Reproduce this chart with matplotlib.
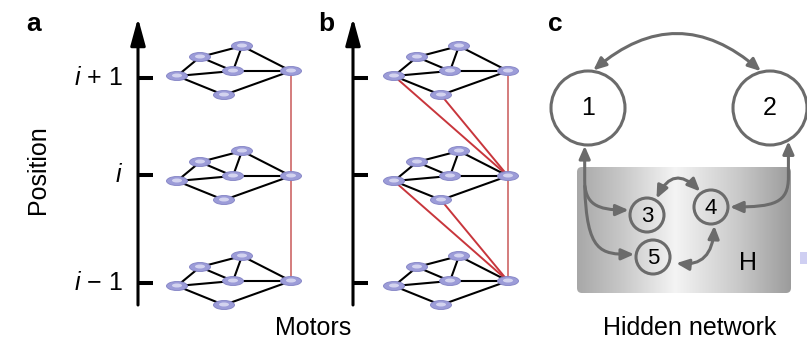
import numpy as np
import matplotlib
import matplotlib.pyplot as plt
from matplotlib.patches import Ellipse, Circle, FancyBboxPatch, FancyArrowPatch, Rectangle
from matplotlib.path import Path
from matplotlib.colors import LinearSegmentedColormap

matplotlib.rc("font", family="Liberation Sans")
matplotlib.rc("mathtext", fontset="custom", it="Liberation Sans:italic", rm="Liberation Sans")

# motor network (one copy), positions of the top copy in panel a (pixels)
node_x = [177, 200, 242, 233, 291, 224]
node_y = [76, 57, 46, 71, 71, 95]
node_edges = [(0, 1), (0, 3), (0, 5), (1, 2), (1, 3), (2, 3), (2, 4), (3, 4), (5, 4)]

# copies at positions i+1, i, i-1
level_shift = [0, 105, 210]
panel_shift = [0, 217]
tick_labels = ["$i$ + 1", "$i$", "$i$ \u2212 1"]
tick_y = [78, 175, 283]
axis_x = [138, 353]
panel_labels = ["a", "b", "c"]
panel_label_x = [34, 326, 555]

# panel b: node 4 of a copy links to these nodes of the copy above
cross_links = [0, 5, 4]

# panel c
big_names = ["1", "2"]
big_x = [588, 770]
big_y = [108, 108]
small_names = ["3", "4", "5"]
small_x = [647, 711, 653]
small_y = [215, 207, 257]

BIG_R = 37
SMALL_R = 17
GREY = "#6b6b6b"

fig = plt.figure(figsize=(8.07, 3.40), dpi=100)
ax = fig.add_axes([0, 0, 1, 1])


def on_circle(cx, cy, r, deg):
    t = np.radians(deg)
    return (cx + r * np.cos(t), cy - r * np.sin(t))


def node(x, y):
    ax.add_patch(Ellipse((x, y), 21, 9, facecolor="#9c9cd8", edgecolor="#8282c4", lw=0.6, zorder=5))
    ax.add_patch(Ellipse((x, y - 0.5), 10, 4, facecolor="#e2e2f6", edgecolor="none", alpha=0.8, zorder=6))


# panels a and b
for p, dx in enumerate(panel_shift):
    # position axis
    ax.annotate("", xy=(axis_x[p], 18), xytext=(axis_x[p], 305),
                arrowprops=dict(arrowstyle="-|>,head_length=1.65,head_width=0.45", lw=2.2,
                                color="black", shrinkA=0, shrinkB=0, mutation_scale=10))
    for ty in tick_y:
        ax.plot([axis_x[p], axis_x[p] + 15], [ty, ty], color="black", lw=2.9, solid_capstyle="butt")

    for dy in level_shift:
        xs = [x + dx for x in node_x]
        ys = [y + dy for y in node_y]
        for a, b in node_edges:
            ax.plot([xs[a], xs[b]], [ys[a], ys[b]], color="black", lw=1.5, zorder=3)
        for x, y in zip(xs, ys):
            node(x, y)

# red links
ax.plot([node_x[4], node_x[4]], [node_y[4] + level_shift[0], node_y[4] + level_shift[2]],
        color="#d47c7c", lw=1.4, zorder=2)
dx = panel_shift[1]
for k in range(1, len(level_shift)):
    for n in cross_links:
        col = "#d47c7c" if n == 4 else "#c8363c"
        ax.plot([node_x[4] + dx, node_x[n] + dx],
                [node_y[4] + level_shift[k], node_y[n] + level_shift[k - 1]],
                color=col, lw=1.4, zorder=2)

# texts of panels a and b
for lab, ty in zip(tick_labels, tick_y):
    ax.text(123, ty, lab, ha="right", va="center", fontsize=18)
ax.text(38, 170, "Position", rotation=90, ha="center", va="center", fontsize=18)
ax.text(313, 328, "Motors", ha="center", va="center", fontsize=18)
for lab, x in zip(panel_labels, panel_label_x):
    ax.text(x, 24, lab, ha="center", va="center", fontsize=19, fontweight="bold")

# panel c: hidden network box with grey gradient
box = FancyBboxPatch((577, 167), 214, 126, boxstyle="round,pad=0,rounding_size=5",
                     facecolor="none", edgecolor="none")
ax.add_patch(box)
grad = LinearSegmentedColormap.from_list(
    "grad", [(0, "#a8a8a8"), (0.2, "#c6c6c6"), (0.46, "#f4f4f4"), (0.75, "#cacaca"), (1, "#9c9c9c")])
img = ax.imshow(np.linspace(0, 1, 256).reshape(1, -1), cmap=grad, extent=(577, 791, 293, 167),
                aspect="auto", zorder=1)
img.set_clip_path(box)

for name, cx, cy in zip(big_names, big_x, big_y):
    ax.add_patch(Circle((cx, cy), BIG_R, facecolor="white", edgecolor=GREY, lw=2.2, zorder=4))
    ax.text(cx, cy, name, ha="center", va="center", fontsize=18, zorder=5)
for name, cx, cy in zip(small_names, small_x, small_y):
    ax.add_patch(Circle((cx, cy), SMALL_R, facecolor="none", edgecolor=GREY, lw=2.2, zorder=4))
    ax.text(cx, cy + 1, name, ha="center", va="center", fontsize=16, zorder=5)
ax.text(748, 263, "H", ha="center", va="center", fontsize=18, zorder=5)
ax.text(690, 328, "Hidden network", ha="center", va="center", fontsize=18)


def arrow(path=None, a=None, b=None, style="<|-|>", conn="arc3"):
    st = style + ",head_length=0.75,head_width=0.33"
    if path is not None:
        pa = FancyArrowPatch(path=path, arrowstyle=st, mutation_scale=10, color=GREY, lw=2.2, zorder=6)
    else:
        pa = FancyArrowPatch(a, b, arrowstyle=st, connectionstyle=conn, mutation_scale=10,
                             color=GREY, lw=2.2, shrinkA=0, shrinkB=0, zorder=6)
    ax.add_patch(pa)


# 1 <-> 2 over the top
arrow(a=on_circle(big_x[0], big_y[0], BIG_R + 1, 82), b=on_circle(big_x[1], big_y[1], BIG_R + 1, 104),
      conn="arc3,rad=-0.43")

# 1 <-> 3
p1 = on_circle(big_x[0], big_y[0], BIG_R + 1, 265)
p3 = on_circle(small_x[0], small_y[0], SMALL_R + 2, 165)
arrow(path=Path([p1, (p1[0], p3[1] - 30), (p1[0], p3[1] - 6), (p1[0] + 12, p3[1]), p3],
                [Path.MOVETO, Path.LINETO, Path.CURVE4, Path.CURVE4, Path.CURVE4]))

# 1 -> 5 (branch)
p5 = on_circle(small_x[2], small_y[2], SMALL_R + 2, 172)
arrow(path=Path([(p1[0], 186), (p1[0] + 2, p5[1] - 2), (p1[0] + 16, p5[1]), p5],
                [Path.MOVETO, Path.CURVE4, Path.CURVE4, Path.CURVE4]), style="-|>")

# 2 <-> 4
p2 = on_circle(big_x[1], big_y[1], BIG_R + 1, -61)
p4 = on_circle(small_x[1], small_y[1], SMALL_R + 2, 0)
arrow(path=Path([p2, (p2[0], p4[1] - 30), (p2[0], p4[1] - 4), (p2[0] - 14, p4[1]), p4],
                [Path.MOVETO, Path.LINETO, Path.CURVE4, Path.CURVE4, Path.CURVE4]))

# 3 <-> 4
arrow(a=on_circle(small_x[0], small_y[0], SMALL_R + 2, 60), b=on_circle(small_x[1], small_y[1], SMALL_R + 2, 125),
      conn="arc3,rad=-0.7")

# 4 <-> 5
q4 = on_circle(small_x[1], small_y[1], SMALL_R + 2, -80)
q5 = on_circle(small_x[2], small_y[2], SMALL_R + 7, -15)
arrow(path=Path([q4, (q4[0] - 2, q5[1] + 4), q5], [Path.MOVETO, Path.CURVE3, Path.CURVE3]))

# piece of a node at the right edge
ax.add_patch(Rectangle((800, 252), 7, 12, facecolor="#cfcff2", edgecolor="none"))

ax.set_xlim(0, 807)
ax.set_ylim(340, 0)
ax.axis("off")
fig.savefig("out.png", dpi=100)
